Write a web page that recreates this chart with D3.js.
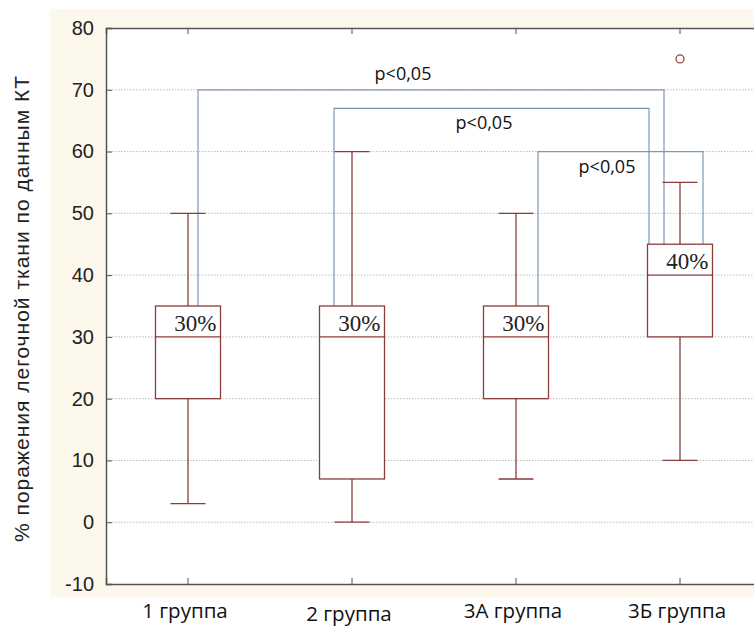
<html>
  <head>
    <meta charset="utf-8">
    <script src="https://cdn.jsdelivr.net/npm/d3@7"></script>
    <style>
      * { margin: 0; padding: 0; }
      body { background: white; width: 754px; height: 628px; overflow: hidden; }
      .tick-label { font-family: "Liberation Sans", Arial, sans-serif; font-size: 20px; fill: #222; }
      .axis-title { font-family: "Liberation Sans", Arial, sans-serif; font-size: 21px; fill: #222; }
      .cat-label { font-family: "Open Sans", sans-serif; font-size: 20.5px; fill: #111; }
      .p-label { font-family: "Open Sans", sans-serif; font-size: 18px; fill: #111; }
      .pct { font-family: "Liberation Serif", "Times New Roman", serif; font-size: 23px; fill: #222; }
    </style>
  </head>
  <body>
    <svg id="chart" width="754" height="628"></svg>
    <script>
      // data
      const categories = ["1 группа", "2 группа", "3А группа", "3Б группа"];
      const mins = [3, 0, 7, 10];
      const q1s = [20, 7, 20, 30];
      const medians = [30, 30, 30, 40];
      const q3s = [35, 35, 35, 45];
      const maxs = [50, 60, 50, 55];
      const medianLabels = ["30%", "30%", "30%", "40%"];
      const outlierGroups = ["3Б группа"];
      const outlierValues = [75];
      const yTicks = [-10, 0, 10, 20, 30, 40, 50, 60, 70, 80];
      const compFrom = ["1 группа", "2 группа", "3А группа"];
      const compTo = ["3Б группа", "3Б группа", "3Б группа"];
      const compLevel = [70, 67, 60];
      const compText = ["p<0,05", "p<0,05", "p<0,05"];

      // bracket leg offsets from the band centre, and label placement (layout only)
      const legFrom = [10, -18, 22];
      const legTo = [-16, -31, 23];
      const labelX = [403, 484, 607];
      const labelDy = [-15, 16, 17];

      const yLabel = "% поражения легочной ткани по данным КТ";

      const W = 754, H = 628;
      const plot = { left: 106, top: 28, right: 762, bottom: 584 };

      const svg = d3.select("#chart");

      // cream panel behind the plot
      svg.append("rect")
        .attr("x", 50).attr("y", 9)
        .attr("width", W - 50).attr("height", 588)
        .attr("fill", "#fdf8ec");

      svg.append("rect")
        .attr("x", plot.left).attr("y", plot.top)
        .attr("width", plot.right - plot.left).attr("height", plot.bottom - plot.top)
        .attr("fill", "white");

      const x = d3.scaleBand().domain(categories).range([plot.left, plot.right]);
      const y = d3.scaleLinear().domain([-10, 80]).range([plot.bottom, plot.top]);
      const cx = (c) => x(c) + x.bandwidth() / 2;

      // dotted grid
      svg.append("g")
        .selectAll("line")
        .data(yTicks.filter((t) => t > -10 && t < 80))
        .enter()
        .append("line")
        .attr("x1", plot.left).attr("x2", plot.right)
        .attr("y1", (d) => y(d)).attr("y2", (d) => y(d))
        .attr("stroke", "#bdbdbd")
        .attr("stroke-width", 1)
        .attr("stroke-dasharray", "1.5,1.5");

      // axes
      const yAxis = d3.axisLeft(y).tickValues(yTicks).tickFormat((d) => String(d)).tickSize(-6).tickPadding(12);
      const gy = svg.append("g").attr("transform", "translate(" + plot.left + ",0)").call(yAxis);
      gy.selectAll("text").attr("class", "tick-label").attr("fill", null);
      gy.select(".domain").attr("stroke", "#555").attr("stroke-width", 1.5);
      gy.selectAll(".tick line").attr("stroke", "#555");

      const xAxis = d3.axisBottom(x).tickSize(-6).tickFormat("");
      const gx = svg.append("g").attr("transform", "translate(0," + plot.bottom + ")").call(xAxis);
      gx.select(".domain").attr("stroke", "#555").attr("stroke-width", 1.5);
      gx.selectAll(".tick line").attr("stroke", "#555");

      const xTop = d3.axisTop(x).tickSize(-6).tickFormat("");
      const gt = svg.append("g").attr("transform", "translate(0," + plot.top + ")").call(xTop);
      gt.select(".domain").attr("stroke", "#555").attr("stroke-width", 1.5);
      gt.selectAll(".tick line").attr("stroke", "#555");

      // category labels below the panel
      svg.append("g")
        .selectAll("text")
        .data(categories)
        .enter()
        .append("text")
        .attr("class", "cat-label")
        .attr("x", (d) => cx(d) - 3)
        .attr("y", (d, i) => (i === 1 ? 621 : 618))
        .attr("text-anchor", "middle")
        .text((d) => d);

      // y axis title
      svg.append("text")
        .attr("class", "axis-title")
        .attr("transform", "translate(29,309) rotate(-90)")
        .attr("text-anchor", "middle")
        .attr("textLength", 466)
        .attr("lengthAdjust", "spacing")
        .text(yLabel);

      // comparison brackets
      const boxColor = "#8a3b3b";
      const bracketColor = "#7d98b3";
      const idx = (c) => categories.indexOf(c);
      const brackets = svg.append("g").attr("fill", "none").attr("stroke", bracketColor).attr("stroke-width", 1.2);
      compFrom.forEach((from, i) => {
        const to = compTo[i];
        const x1 = cx(from) + legFrom[i];
        const x2 = cx(to) + legTo[i];
        const path = d3.path();
        path.moveTo(x1, y(q3s[idx(from)]));
        path.lineTo(x1, y(compLevel[i]));
        path.lineTo(x2, y(compLevel[i]));
        path.lineTo(x2, y(q3s[idx(to)]));
        brackets.append("path").attr("d", path.toString());
        svg.append("text")
          .attr("class", "p-label")
          .attr("x", labelX[i])
          .attr("y", y(compLevel[i]) + labelDy[i])
          .attr("text-anchor", "middle")
          .attr("dominant-baseline", "middle")
          .text(compText[i]);
      });

      // boxes and whiskers
      const boxW = 65, capW = 35;
      const g = svg.append("g").attr("stroke", boxColor).attr("stroke-width", 1.3);
      categories.forEach((c, i) => {
        const m = cx(c);
        g.append("line").attr("x1", m).attr("x2", m).attr("y1", y(maxs[i])).attr("y2", y(q3s[i]));
        g.append("line").attr("x1", m).attr("x2", m).attr("y1", y(q1s[i])).attr("y2", y(mins[i]));
        g.append("line").attr("x1", m - capW / 2).attr("x2", m + capW / 2).attr("y1", y(maxs[i])).attr("y2", y(maxs[i]));
        g.append("line").attr("x1", m - capW / 2).attr("x2", m + capW / 2).attr("y1", y(mins[i])).attr("y2", y(mins[i]));
        g.append("rect")
          .attr("x", m - boxW / 2).attr("y", y(q3s[i]))
          .attr("width", boxW).attr("height", y(q1s[i]) - y(q3s[i]))
          .attr("fill", "white");
        g.append("line").attr("x1", m - boxW / 2).attr("x2", m + boxW / 2).attr("y1", y(medians[i])).attr("y2", y(medians[i]));
        svg.append("text")
          .attr("class", "pct")
          .attr("x", m + boxW / 2 - 4)
          .attr("y", y(medians[i]) - 6)
          .attr("text-anchor", "end")
          .text(medianLabels[i]);
      });

      // outliers
      svg.append("g")
        .selectAll("circle")
        .data(outlierValues)
        .enter()
        .append("circle")
        .attr("cx", (d, i) => cx(outlierGroups[i]))
        .attr("cy", (d) => y(d))
        .attr("r", 4)
        .attr("fill", "white")
        .attr("stroke", boxColor)
        .attr("stroke-width", 1.2);
    </script>
  </body>
</html>
